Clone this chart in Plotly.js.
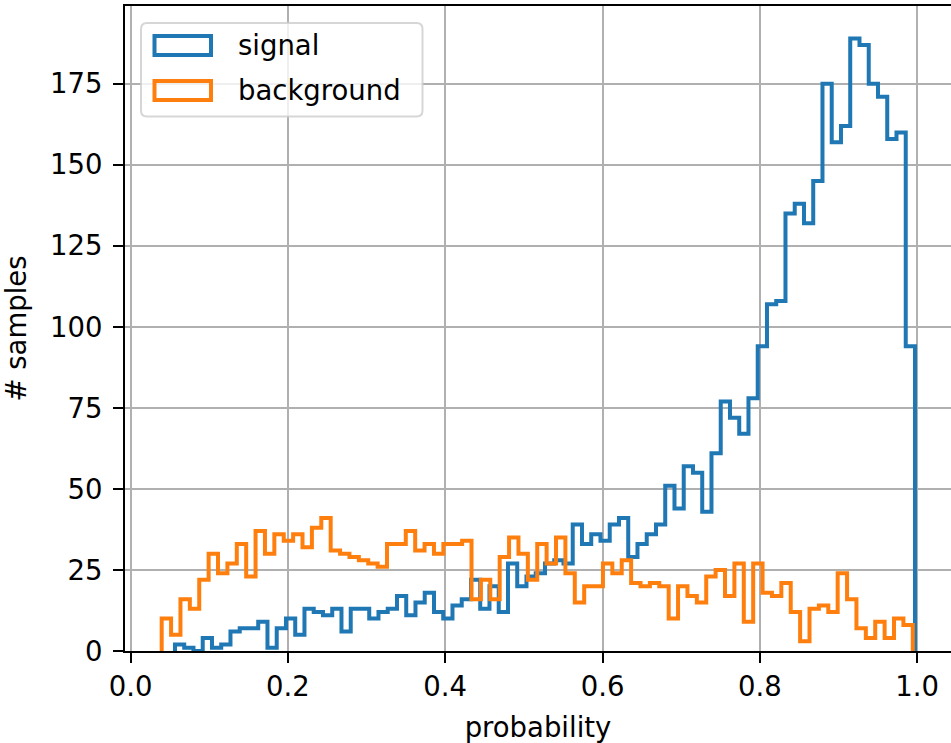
<!DOCTYPE html>
<html>
<head>
<meta charset="utf-8">
<script src="https://cdn.plot.ly/plotly-3.0.1.min.js"></script>
<style>html,body{margin:0;padding:0;background:#fff;}#chart{width:951px;height:743px;}</style>
</head>
<body>
<div id="chart"></div>
<script>
// Histogram bin ranges (80 bins each, matplotlib histtype='step')
const signalRange = [0.0563, 0.9974];
const backgroundRange = [0.0394, 0.9946];

// Counts per bin
const signalCounts = [
  2, 1, 0, 4, 1, 2, 6, 7, 7, 9,
  1, 7, 10, 5, 13, 12, 11, 13, 6, 13,
  13, 10, 12, 13, 17, 11, 15, 18, 12, 10,
  14, 16, 22, 13, 20, 12, 27, 20, 23, 24,
  27, 28, 27, 39, 33, 36, 34, 39, 41, 29,
  33, 36, 39, 51, 44, 57, 55, 43, 61, 77,
  72, 67, 78, 94, 107, 108, 135, 138, 132, 145,
  175, 157, 162, 189, 187, 175, 171, 158, 160, 94
];
const backgroundCounts = [
  10, 5, 16, 13, 22, 30, 24, 27, 33, 23,
  37, 30, 36, 34, 36, 32, 38, 41, 31, 30,
  29, 28, 27, 26, 33, 33, 37, 31, 33, 30,
  33, 33, 34, 16, 22, 16, 29, 35, 30, 22,
  33, 27, 35, 24, 15, 20, 20, 27, 24, 28,
  21, 20, 21, 20, 10, 20, 17, 15, 23, 25,
  17, 27, 9, 27, 18, 17, 21, 12, 3, 13,
  14, 12, 24, 16, 7, 4, 9, 4, 10, 8
];

const seriesNames = ["signal", "background"];
const seriesColors = ["#1f77b4", "#ff7f0e"];

const xTickVals = [0, 0.2, 0.4, 0.6, 0.8, 1.0];
const xTickText = ["0.0", "0.2", "0.4", "0.6", "0.8", "1.0"];
const yTickVals = [0, 25, 50, 75, 100, 125, 150, 175];
const yTickText = ["0", "25", "50", "75", "100", "125", "150", "175"];

function stepOutline(range, counts) {
  const n = counts.length, lo = range[0], hi = range[1];
  const w = (hi - lo) / n;
  const x = [lo], y = [0];
  for (let i = 0; i < n; i++) { x.push(lo + i * w); y.push(counts[i]); }
  x.push(hi); y.push(0);
  return {x, y};
}

const s = stepOutline(signalRange, signalCounts);
const b = stepOutline(backgroundRange, backgroundCounts);

const traces = [
  {x: s.x, y: s.y, type: "scatter", mode: "lines", name: seriesNames[0],
   line: {color: seriesColors[0], width: 4, shape: "hv"}, showlegend: false},
  {x: b.x, y: b.y, type: "scatter", mode: "lines", name: seriesNames[1],
   line: {color: seriesColors[1], width: 4, shape: "hv"}, showlegend: false}
];

const W = 951, H = 743;
const M = {l: 125, r: 0, t: 6, b: 92};
const PW = W - M.l - M.r, PH = H - M.t - M.b;
function px(xp) { return (xp - M.l) / PW; }
function py(yp) { return (H - M.b - yp) / PH; }

const FONT = "DejaVu Sans, Liberation Sans, sans-serif";
const FS = 27.5;

// manual matplotlib-style legend
function roundRect(x0, y0, x1, y1, r) {
  const rx = r / PW, ry = r / PH;
  const X0 = px(x0), X1 = px(x1), Y0 = py(y0), Y1 = py(y1); // Y0 top (larger)
  return `M${X0 + rx},${Y0} L${X1 - rx},${Y0} Q${X1},${Y0} ${X1},${Y0 - ry} ` +
         `L${X1},${Y1 + ry} Q${X1},${Y1} ${X1 - rx},${Y1} L${X0 + rx},${Y1} ` +
         `Q${X0},${Y1} ${X0},${Y1 + ry} L${X0},${Y0 - ry} Q${X0},${Y0} ${X0 + rx},${Y0} Z`;
}

const shapes = [
  {type: "path", xref: "paper", yref: "paper", path: roundRect(141, 23, 422.5, 116.5, 6),
   fillcolor: "rgba(255,255,255,0.8)", line: {color: "rgba(204,204,204,0.8)", width: 2}},
  {type: "rect", xref: "paper", yref: "paper", x0: px(154.5), x1: px(211), y0: py(36), y1: py(55),
   fillcolor: "rgba(0,0,0,0)", line: {color: seriesColors[0], width: 4}},
  {type: "rect", xref: "paper", yref: "paper", x0: px(154.5), x1: px(211), y0: py(81), y1: py(100),
   fillcolor: "rgba(0,0,0,0)", line: {color: seriesColors[1], width: 4}}
];

const annotations = [
  {xref: "paper", yref: "paper", x: px(236), y: py(45), xanchor: "left", yanchor: "middle",
   text: seriesNames[0], showarrow: false, font: {family: FONT, size: FS, color: "#000"}},
  {xref: "paper", yref: "paper", x: px(236), y: py(90), xanchor: "left", yanchor: "middle",
   text: seriesNames[1], showarrow: false, font: {family: FONT, size: FS, color: "#000"}}
];

const axisCommon = {
  ticks: "outside", ticklen: 10, tickwidth: 2, tickcolor: "#000",
  showline: true, linecolor: "#000", linewidth: 2,
  showgrid: true, gridcolor: "#b0b0b0", gridwidth: 2, zeroline: false,
  tickfont: {family: FONT, size: FS, color: "#000"}, fixedrange: true
};

const layout = {
  width: W, height: H, margin: M,
  paper_bgcolor: "#fff", plot_bgcolor: "#fff",
  font: {family: FONT, size: FS, color: "#000"},
  showlegend: false,
  xaxis: Object.assign({}, axisCommon, {
    range: [-0.00725, 1.0432], tickmode: "array", tickvals: xTickVals, ticktext: xTickText,
    mirror: true, title: {text: "probability", font: {family: FONT, size: FS, color: "#000"}}
  }),
  yaxis: Object.assign({}, axisCommon, {
    range: [0, 199], tickmode: "array", tickvals: yTickVals, ticktext: yTickText,
    ticklabelstandoff: 5,
    title: {text: "# samples", standoff: 22, font: {family: FONT, size: FS, color: "#000"}}
  }),
  shapes: shapes,
  annotations: annotations
};

Plotly.newPlot("chart", traces, layout, {displayModeBar: false, staticPlot: true});
</script>
</body>
</html>
